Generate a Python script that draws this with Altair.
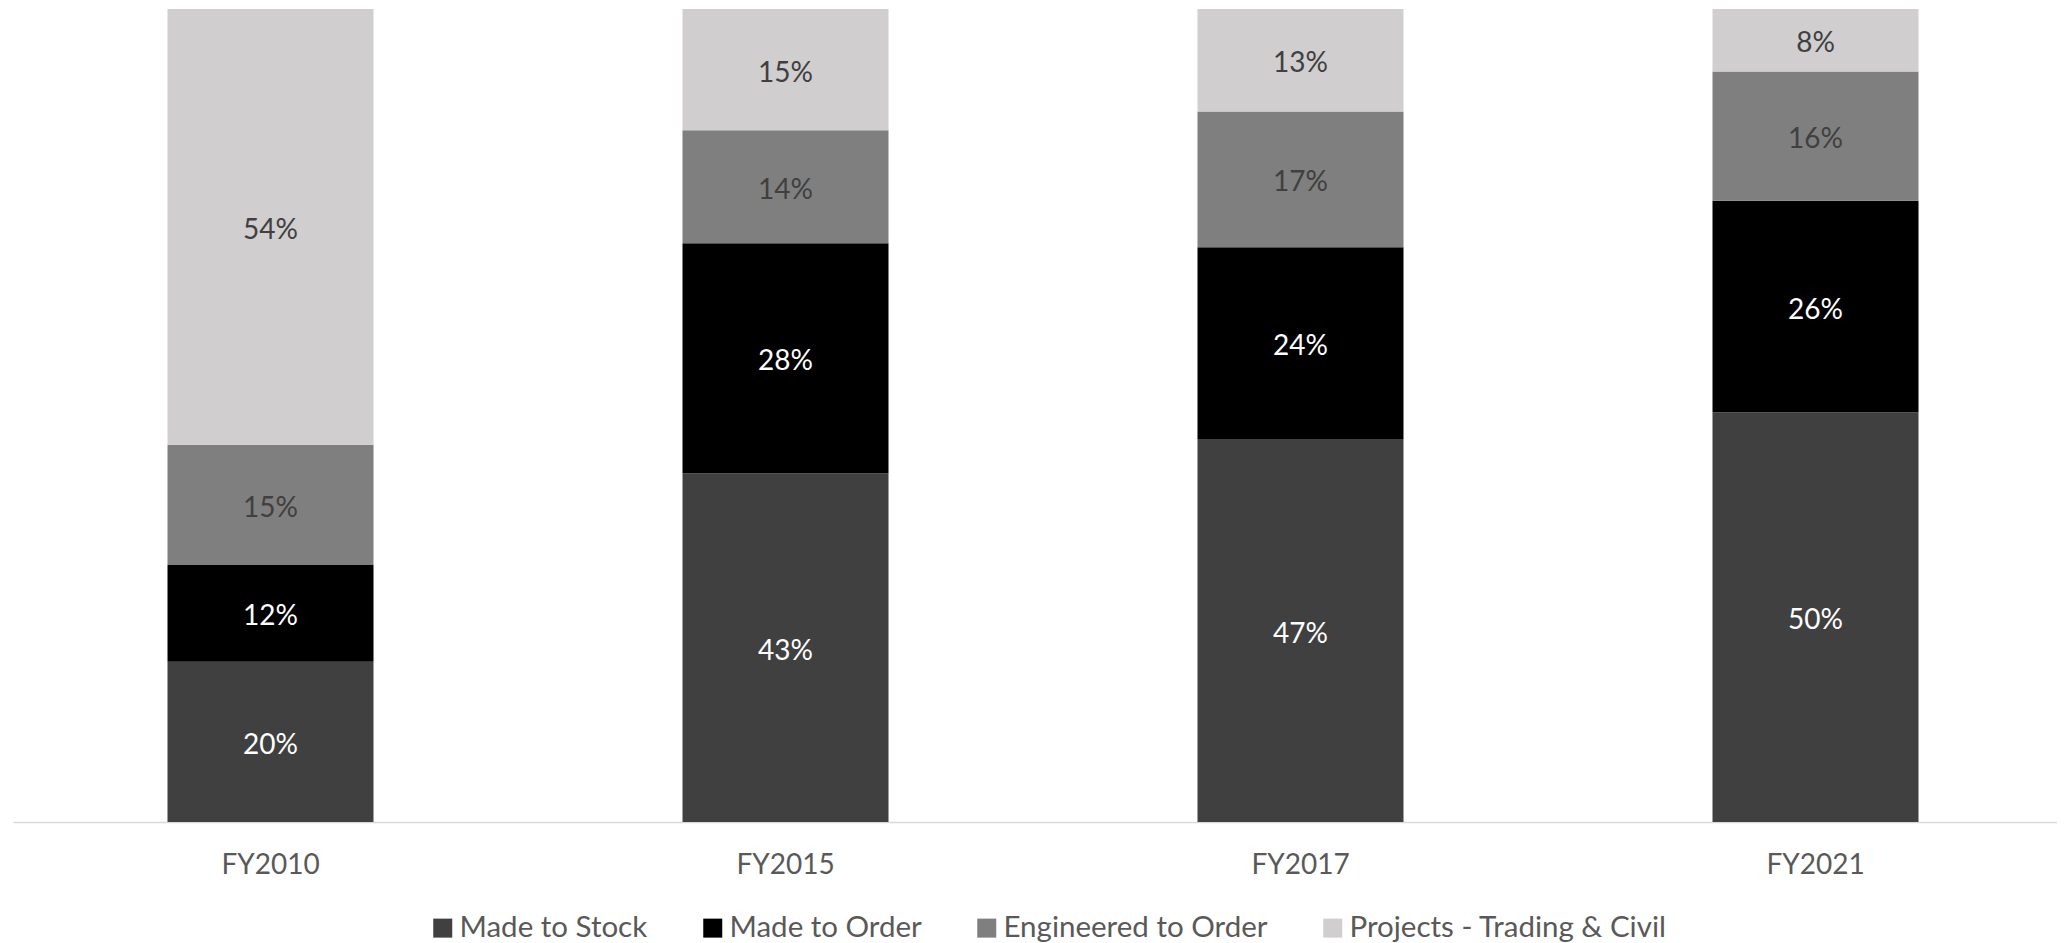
import altair as alt
import pandas as pd

years = ["FY2010", "FY2015", "FY2017", "FY2021"]
categories = ["Made to Stock", "Made to Order", "Engineered to Order", "Projects - Trading & Civil"]
made_to_stock = [19.7, 42.9, 47.1, 50.4]
made_to_order = [11.9, 28.3, 23.6, 26.0]
engineered_to_order = [14.8, 13.9, 16.7, 15.9]
projects_trading_civil = [53.6, 14.9, 12.6, 7.7]

bar_colors = ["#404040", "#000000", "#7f7f7f", "#d0cecf"]
text_colors = ["#ffffff", "#ffffff", "#404040", "#404040"]

series = [made_to_stock, made_to_order, engineered_to_order, projects_trading_civil]
rows = []
for ci, (cat, vals) in enumerate(zip(categories, series)):
    for yr, v in zip(years, vals):
        rows.append({"year": yr, "cat": cat, "ord": ci, "v": v, "tc": text_colors[ci]})
df = pd.DataFrame(rows)

FONT = "Lato"

base = alt.Chart(df).transform_stack(
    stack="v", as_=["y0", "y1"], groupby=["year"], sort=[alt.SortField("ord", order="ascending")]
).transform_calculate(
    mid="(datum.y0 + datum.y1) / 2",
    label="format(datum.v, '.0f') + '%'"
)

x_enc = alt.X(
    "year:N", sort=years, title=None,
    scale=alt.Scale(paddingInner=0.6, paddingOuter=0.3),
    axis=alt.Axis(labelAngle=0, ticks=False, domainColor="#d9d9d9", domainWidth=1.5,
                  labelFont=FONT, labelFontSize=28, labelColor="#595959", labelPadding=29,
                  grid=False),
)
y_scale = alt.Scale(domain=[0, 100], nice=False, zero=True)

bars = base.mark_bar().encode(
    x=x_enc,
    y=alt.Y("y0:Q", scale=y_scale, axis=None, title=None),
    y2="y1:Q",
    color=alt.Color("cat:N", scale=alt.Scale(domain=categories, range=bar_colors),
                    legend=alt.Legend(title=None, orient="none", direction="horizontal",
                                      legendX=415, legendY=904,
                                      symbolType="square", symbolSize=361, symbolStrokeWidth=0,
                                      labelFont=FONT, labelFontSize=29.5, labelColor="#595959",
                                      labelLimit=0, labelOffset=2, columnPadding=50)),
)

texts = base.mark_text(font=FONT, fontSize=28, align="center", baseline="middle", dy=4).encode(
    x=x_enc,
    y=alt.Y("mid:Q", scale=y_scale, axis=None),
    text="label:N",
    color=alt.Color("tc:N", scale=None, legend=None),
)

chart = alt.layer(bars, texts).resolve_scale(color="independent").properties(
    width=2060, height=813,
    autosize=alt.AutoSizeParams(type="none"),
    padding={"left": 5, "top": 1, "right": -16, "bottom": 122},
).configure(background="#ffffff").configure_view(strokeWidth=0, stroke="transparent")

chart.save("out.html", embed_options={"renderer": "svg", "actions": False})
